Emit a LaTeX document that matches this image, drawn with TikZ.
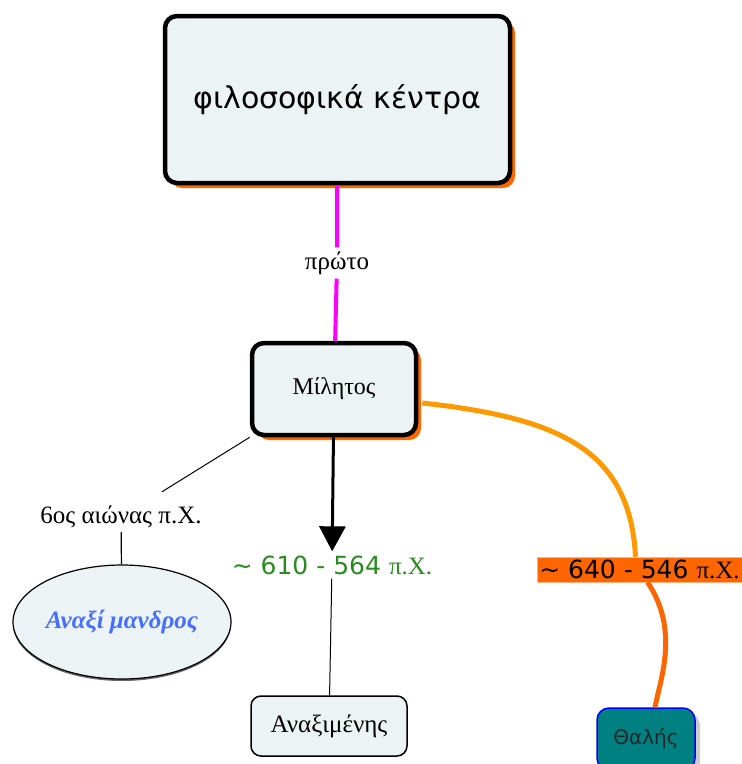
\documentclass[tikz,border=0pt]{standalone}
\usepackage{fontspec}
\setmainfont{Liberation Serif}
\newfontfamily\dejavu{DejaVu Sans}
\usetikzlibrary{arrows.meta,shadows,shapes.geometric}
\definecolor{boxfill}{RGB}{236,243,245}
\definecolor{deeporange}{RGB}{255,102,0}
\definecolor{lightorange}{RGB}{255,153,0}
\definecolor{linkmagenta}{RGB}{255,0,255}
\definecolor{datumgreen}{RGB}{40,140,30}
\definecolor{nameblue}{RGB}{70,110,255}
\definecolor{thalesteal}{RGB}{0,128,128}
\begin{document}
\begin{tikzpicture}[x=1pt,y=1pt]
        \tikzstyle{every node}+=[inner sep=0pt]
        \tikzstyle{concept}=[draw=black, fill=boxfill, rounded corners=12pt, line width=4.5pt, drop shadow={shadow xshift=5pt, shadow yshift=-5pt, fill=deeporange, opacity=1}]
        \tikzstyle{label}=[font=\fontsize{25}{30}\selectfont, inner sep=4pt]
        \useasboundingbox (0,0) rectangle (742,-764);
        \node [concept, minimum width=345pt, minimum height=167pt] (centre) at (337.5,-99.5) {\dejavu\fontsize{30}{36}\selectfont φιλοσοφικά κέντρα};
        \node [concept, minimum width=164pt, minimum height=92pt, font=\fontsize{24}{29}\selectfont] (miletus) at (334,-389) {Μίλητος};
        \node [label, fill=white] (proto) at (337,-263) {πρώτο};
        \draw [linkmagenta, line width=4pt] (centre) -- (proto) -- (miletus);
        \node [label] (aionas) at (121,-517) {6ος αιώνας π.Χ.};
        \node [ellipse, draw, fill=boxfill, line width=1.2pt, minimum width=218pt, minimum height=114pt, text=nameblue, font=\bfseries\itshape\fontsize{25}{30}\selectfont, drop shadow={shadow xshift=0pt, shadow yshift=-2pt, fill=black!60, opacity=1}] (anaximandros) at (122,-622) {Αναξί μανδρος};
        \draw [line width=1pt] (miletus.south west) -- ([shift={(41pt,10pt)}]aionas.north);
        \draw [line width=1.2pt] (aionas) -- (anaximandros);
        \node [label, text=datumgreen] (d610) at (332,-565) {\dejavu\textasciitilde\ 610 - 564 \rmfamily π.Χ.};
        \node [draw, fill=boxfill, rounded corners=10pt, line width=1.5pt, minimum width=156pt, minimum height=60pt, font=\fontsize{25}{30}\selectfont] (anaximenes) at (329,-726) {Αναξιμένης};
        \draw [line width=3pt, -{Triangle[length=25pt,width=26pt]}] (miletus) -- (d610);
        \draw [line width=1pt] (d610) -- (anaximenes);
        \node [label, fill=deeporange, draw=deeporange!50, minimum width=205pt, minimum height=25pt, inner sep=1pt] (d640) at (639.5,-569.5) {\dejavu\textasciitilde\ 640 - 546 \rmfamily π.Χ.};
        \node [draw=blue, fill=thalesteal, rounded corners=12pt, line width=1.5pt, minimum width=98pt, minimum height=62pt, text=black!85, font=\dejavu\fontsize{20}{24}\selectfont, drop shadow={shadow xshift=5pt, shadow yshift=-5pt, fill=black!20, opacity=1}] (thales) at (646,-739) {Θαλής};
        \draw [lightorange, line width=5pt] ([shift={(4pt,-14pt)}]miletus.east) .. controls (560,-418) and (630,-450) .. ([xshift=-4pt]d640.north);
        \draw [deeporange, line width=5pt] ([xshift=8pt]d640.south) .. controls (680,-630) and (660,-680) .. ([xshift=9pt]thales.north);
\end{tikzpicture}
\end{document}
